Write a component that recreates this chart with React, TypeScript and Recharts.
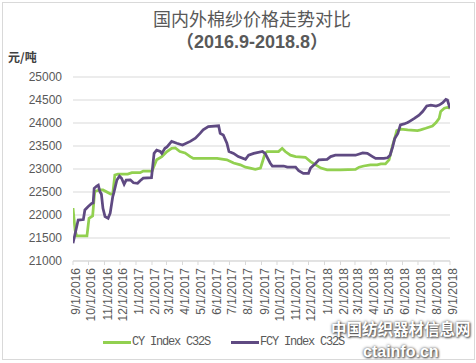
import React from 'react';
import { LineChart, Line, XAxis, YAxis, CartesianGrid } from 'recharts';

const tickMonths = [
  '2016-09-01', '2016-10-01', '2016-11-01', '2016-12-01', '2017-01-01', '2017-02-01',
  '2017-03-01', '2017-04-01', '2017-05-01', '2017-06-01', '2017-07-01', '2017-08-01',
  '2017-09-01', '2017-10-01', '2017-11-01', '2017-12-01', '2018-01-01', '2018-02-01',
  '2018-03-01', '2018-04-01', '2018-05-01', '2018-06-01', '2018-07-01', '2018-08-01',
  '2018-09-01',
];

const yTicks = [21000, 21500, 22000, 22500, 23000, 23500, 24000, 24500, 25000];

const cyDates = [
  '2016-09-01', '2016-09-05', '2016-09-08', '2016-09-28', '2016-10-02', '2016-10-09',
  '2016-10-13', '2016-10-23', '2016-10-29', '2016-11-13', '2016-11-17', '2016-11-21',
  '2016-11-27', '2016-12-16', '2016-12-24', '2017-01-09', '2017-01-15', '2017-02-01',
  '2017-02-10', '2017-02-20', '2017-03-02', '2017-03-11', '2017-03-18', '2017-03-27',
  '2017-04-06', '2017-04-16', '2017-04-22', '2017-06-07', '2017-06-26', '2017-07-09',
  '2017-07-22', '2017-08-01', '2017-08-10', '2017-08-20', '2017-08-30', '2017-09-02',
  '2017-09-08', '2017-09-12', '2017-10-04', '2017-10-11', '2017-10-17', '2017-10-27',
  '2017-11-06', '2017-11-25', '2017-12-05', '2017-12-15', '2017-12-25', '2018-01-06',
  '2018-02-01', '2018-03-02', '2018-03-09', '2018-03-18', '2018-03-31', '2018-04-13',
  '2018-04-20', '2018-04-29', '2018-05-06', '2018-05-13', '2018-05-16', '2018-05-21',
  '2018-05-29', '2018-06-11', '2018-06-30', '2018-07-06', '2018-07-16', '2018-07-29',
  '2018-08-05', '2018-08-11', '2018-08-14', '2018-08-21', '2018-08-27', '2018-09-01',
];
const cyValues = [
  22150, 21675, 21545, 21545, 21930, 21980,
  22510, 22545, 22545, 22455, 22460, 22870,
  22890, 22890, 22920, 22920, 22955, 22955,
  23200, 23270, 23380, 23450, 23460, 23380,
  23350, 23270, 23230, 23230, 23200, 23130,
  23090, 23040, 23020, 22995, 23020, 23125,
  23340, 23380, 23380, 23450, 23380, 23300,
  23270, 23255, 23160, 23090, 23020, 22980,
  22980, 22990, 23040, 23065, 23090, 23090,
  23110, 23110, 23200, 23520, 23630, 23835,
  23865, 23850, 23835, 23850, 23885, 23935,
  24010, 24100, 24250, 24320, 24340, 24320,
];

const fcyDates = [
  '2016-09-01', '2016-09-11', '2016-09-21', '2016-09-24', '2016-09-30', '2016-10-07',
  '2016-10-10', '2016-10-12', '2016-10-17', '2016-10-20', '2016-10-23', '2016-10-26',
  '2016-10-29', '2016-11-02', '2016-11-08', '2016-11-12', '2016-11-17', '2016-11-19',
  '2016-11-25', '2016-11-30', '2016-12-04', '2016-12-09', '2016-12-13', '2016-12-21',
  '2016-12-27', '2017-01-04', '2017-01-09', '2017-01-15', '2017-01-31', '2017-02-05',
  '2017-02-10', '2017-02-17', '2017-02-20', '2017-02-26', '2017-03-02', '2017-03-11',
  '2017-03-21', '2017-04-01', '2017-04-16', '2017-04-26', '2017-05-05', '2017-05-11',
  '2017-05-21', '2017-06-10', '2017-06-13', '2017-06-19', '2017-06-26', '2017-06-30',
  '2017-07-09', '2017-07-18', '2017-08-01', '2017-08-07', '2017-08-17', '2017-09-03',
  '2017-09-08', '2017-09-18', '2017-09-22', '2017-10-14', '2017-10-21', '2017-11-06',
  '2017-11-12', '2017-11-21', '2017-12-01', '2017-12-05', '2017-12-15', '2017-12-21',
  '2018-01-06', '2018-01-13', '2018-01-22', '2018-03-02', '2018-03-16', '2018-03-25',
  '2018-04-04', '2018-04-10', '2018-04-26', '2018-05-03', '2018-05-08', '2018-05-13',
  '2018-05-17', '2018-05-23', '2018-05-28', '2018-06-04', '2018-06-11', '2018-06-14',
  '2018-06-24', '2018-07-03', '2018-07-10', '2018-07-18', '2018-07-26', '2018-08-05',
  '2018-08-11', '2018-08-18', '2018-08-24', '2018-08-27', '2018-09-01',
];
const fcyValues = [
  21385, 21890, 21900, 22110, 22180, 22250,
  22260, 22580, 22630, 22650, 22510, 22450,
  22145, 21965, 21930, 22040, 22400, 22480,
  22760, 22845, 22800, 22670, 22760, 22765,
  22700, 22690, 22745, 22800, 22810, 23340,
  23410, 23380, 23340, 23450, 23480, 23600,
  23560, 23520, 23600, 23670, 23775, 23850,
  23920, 23940, 23775, 23740, 23560, 23380,
  23340, 23270, 23210, 23300, 23340, 23380,
  23340, 23125, 23065, 23065, 23040, 23040,
  22965, 22905, 22905, 23020, 23125, 23200,
  23210, 23270, 23300, 23300, 23350, 23340,
  23270, 23230, 23230, 23245, 23300, 23480,
  23665, 23775, 23960, 23980, 24010, 24030,
  24100, 24170, 24250, 24370, 24390, 24370,
  24390, 24440, 24515, 24500, 24320,
];

const toTs = (d: string) => Date.parse(d + 'T00:00:00Z');
const cyData = cyDates.map((d, i) => ({ t: toTs(d), v: cyValues[i] }));
const fcyData = fcyDates.map((d, i) => ({ t: toTs(d), v: fcyValues[i] }));
const xTicks = tickMonths.map(toTs);

const fmtDate = (ts: number) => {
  const d = new Date(ts);
  return `${d.getUTCMonth() + 1}/${d.getUTCDate()}/${d.getUTCFullYear()}`;
};

const XTick = (props: any) => {
  const { x, y, payload } = props;
  return (
    <text
      x={x}
      y={y}
      dy={7}
      transform={`rotate(-90, ${x}, ${y})`}
      textAnchor="end"
      fontSize={12}
      fontFamily="'Liberation Sans', Arial, sans-serif"
      fill="#595959"
    >
      {fmtDate(payload.value)}
    </text>
  );
};

const GREEN = '#92D050';
const PURPLE = '#5F4A82';

export default function App() {
  return (
    <div style={{ position: 'absolute', left: 0, top: 0, width: 476, height: 363, background: '#fff', overflow: 'hidden' }}>
      <div style={{ position: 'absolute', left: 2, top: 2, width: 473, height: 358, border: '1px solid #D9D9D9', boxSizing: 'border-box' }} />
      <div style={{ position: 'absolute', left: 0, width: 504, top: 7, textAlign: 'center', fontFamily: "'Noto Sans CJK SC', sans-serif", fontSize: 18, lineHeight: '22px', color: '#595959' }}>
        国内外棉纱价格走势对比
      </div>
      <div style={{ position: 'absolute', left: 0, width: 504, top: 31, textAlign: 'center', fontFamily: "'Liberation Sans', 'Noto Sans CJK SC', sans-serif", fontWeight: 'bold', fontSize: 18, lineHeight: '22px', color: '#595959' }}>
        （2016.9-2018.8）
      </div>
      <div style={{ position: 'absolute', left: 8, top: 49, fontFamily: "'Noto Sans CJK SC', sans-serif", fontWeight: 'bold', fontSize: 12, lineHeight: '16px', color: '#404040' }}>
        元/吨
      </div>
      <LineChart width={476} height={363} margin={{ top: 77, right: 26, bottom: 42, left: 0 }}>
        <CartesianGrid horizontal vertical={false} stroke="#D9D9D9" />
        <XAxis
          dataKey="t"
          type="number"
          domain={[xTicks[0], xTicks[xTicks.length - 1]]}
          ticks={xTicks}
          allowDataOverflow
          height={60}
          tickSize={4}
          tickMargin={3}
          tickLine={{ stroke: '#D9D9D9' }}
          axisLine={{ stroke: '#D9D9D9' }}
          tick={<XTick />}
          interval={0}
        />
        <YAxis
          type="number"
          domain={[21000, 25000]}
          ticks={yTicks}
          width={73}
          axisLine={false}
          tickLine={false}
          tickSize={6}
          tickMargin={5}
          tick={{ fontSize: 12, fill: '#595959', fontFamily: "'Liberation Sans', Arial, sans-serif" }}
          interval={0}
        />
        <Line data={cyData} dataKey="v" type="linear" stroke={GREEN} strokeWidth={2.75} dot={false} isAnimationActive={false} />
        <Line data={fcyData} dataKey="v" type="linear" stroke={PURPLE} strokeWidth={2.75} dot={false} isAnimationActive={false} />
      </LineChart>
      <div style={{ position: 'absolute', left: 103, top: 341, width: 28, height: 3, background: GREEN }} />
      <div style={{ position: 'absolute', left: 132, top: 334, fontFamily: "'Liberation Mono', monospace", fontSize: 12, letterSpacing: '-1.2px', lineHeight: '16px', color: '#595959', whiteSpace: 'nowrap' }}>
        CY Index C32S
      </div>
      <div style={{ position: 'absolute', left: 231, top: 341, width: 28, height: 3, background: PURPLE }} />
      <div style={{ position: 'absolute', left: 260, top: 334, fontFamily: "'Liberation Mono', monospace", fontSize: 12, letterSpacing: '-1.2px', lineHeight: '16px', color: '#595959', whiteSpace: 'nowrap' }}>
        FCY Index C32S
      </div>
      <div style={{ position: 'absolute', left: 331, top: 318, fontFamily: "'Noto Sans CJK SC', sans-serif", fontWeight: 'bold', fontSize: 15.5, lineHeight: '20px', color: '#fff', whiteSpace: 'nowrap', textShadow: '0 0 3px #444, 1px 1px 2px #555' }}>
        中国纺织器材信息网
      </div>
      <div style={{ position: 'absolute', left: 363, top: 342, fontFamily: "'Liberation Sans', Arial, sans-serif", fontWeight: 'bold', fontSize: 16, lineHeight: '20px', color: '#fff', whiteSpace: 'nowrap', textShadow: '0 0 3px #444, 1px 1px 2px #555' }}>
        ctainfo.cn
      </div>
    </div>
  );
}
